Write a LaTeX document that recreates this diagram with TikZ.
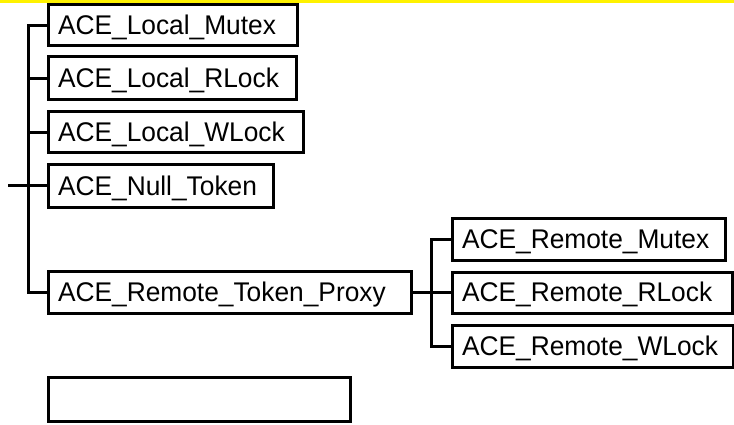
\documentclass[tikz,border=0pt]{standalone}
\usepackage{graphicx}
\usepackage{fontspec}
\setmainfont{Liberation Sans}
\tikzset{
  box/.style={draw, line width=3pt, rectangle, anchor=north west, outer sep=0pt,
    inner xsep=10pt, inner ysep=0pt, text height=18.6pt, text depth=0pt, align=left,
    font=\fontsize{27}{31}\selectfont},
  conn/.style={line width=3pt},
}
\newcommand{\lbl}[1]{\scalebox{0.975}[1]{#1}}
\begin{document}
\begin{tikzpicture}[x=1pt,y=-1pt]
\useasboundingbox (0,0) rectangle (734,425);
\fill[yellow] (0,0) rectangle (734,3);
% local boxes
\node[box, text width=229pt, minimum height=41pt] (lm) at (48,5) {\lbl{ACE\_Local\_Mutex}};
\node[box, text width=228pt, minimum height=43pt] (lr) at (48,57) {\lbl{ACE\_Local\_RLock}};
\node[box, text width=235pt, minimum height=41pt] (lw) at (48,112) {\lbl{ACE\_Local\_WLock}};
\node[box, text width=205pt, minimum height=42pt] (nt) at (48,165) {\lbl{ACE\_Null\_Token}};
\node[box, text width=343pt, minimum height=42pt] (rtp) at (48,271) {\lbl{ACE\_Remote\_Token\_Proxy}};
% remote boxes
\node[box, text width=253pt, minimum height=42pt] (rm) at (452,218) {\lbl{ACE\_Remote\_Mutex}};
\node[box, text width=260pt, minimum height=41pt] (rr) at (452,272) {\lbl{ACE\_Remote\_RLock}};
\node[box, text width=261pt, minimum height=42pt] (rw) at (452,325) {\lbl{ACE\_Remote\_WLock}};
% empty box
\node[box, text width=282pt, minimum height=44pt] (empty) at (48,377) {};
% connectors
\coordinate (root) at (8,186);
\draw[conn] (lm.west) -- ++(-20,0) |- (rtp.west);
\draw[conn] (lr.west) -- ++(-20,0);
\draw[conn] (lw.west) -- ++(-20,0);
\draw[conn] (root) -- (nt.west);
\draw[conn] (rtp.east) -- (rtp.east -| rr.west);
\draw[conn] (rm.west) -- ++(-21,0) |- (rw.west);
\end{tikzpicture}
\end{document}
